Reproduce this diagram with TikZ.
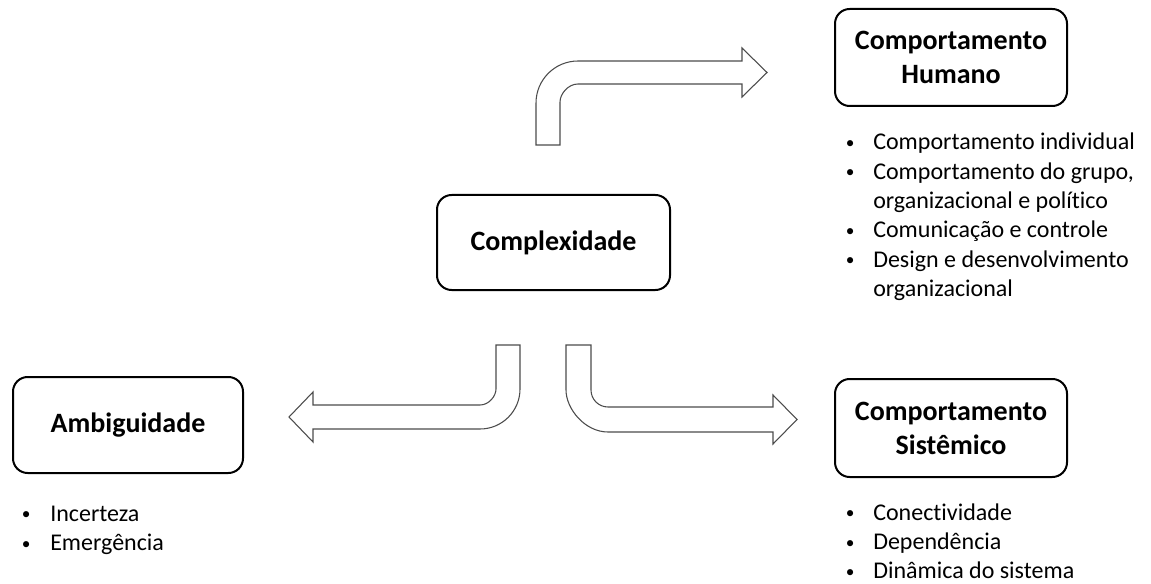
\documentclass[tikz,border=0pt]{standalone}
\usepackage{fontspec}
\setmainfont{Carlito}[Ligatures=NoCommon]
\tikzset{
  box/.style={draw=black, line width=1.5pt, rounded corners=11pt, fill=white,
    align=center, inner sep=0pt,
    font=\bfseries\fontsize{21}{25.5}\selectfont},
  blockarrow/.style={draw=black!70, line width=0.8pt, fill=white, line join=miter},
  listtext/.style={inner sep=0pt, anchor=base west, font=\fontsize{18}{22}\selectfont},
}
\newcommand{\bul}{\makebox[0pt]{\raisebox{1pt}{\fontsize{13}{13}\selectfont •}}}
\begin{document}
\begin{tikzpicture}[x=0.75pt,y=-0.75pt]
\useasboundingbox (0,0) rectangle (1151,584);

% boxes
\node[box, minimum width=233*0.75pt, minimum height=95*0.75pt] (cx) at (553.5,242.5) {Complexidade};
\node[box, minimum width=232*0.75pt, minimum height=97*0.75pt] (hu) at (951,57.5) {Comportamento\\Humano};
\node[box, minimum width=232*0.75pt, minimum height=98*0.75pt] (si) at (951,428) {Comportamento\\Sistêmico};
\node[box, minimum width=230*0.75pt, minimum height=96*0.75pt] (am) at (128,425) {Ambiguidade};

% lists
\node[listtext] (hulist) at (850,150) {\begin{tabular}[t]{@{}l@{\hspace{17.25pt}}l@{}}
\bul & Comportamento individual\\
\bul & Comportamento do grupo,\\
 & organizacional e político\\
\bul & Comunicação e controle\\
\bul & Design e desenvolvimento\\
 & organizacional
\end{tabular}};
\node[listtext] (silist) at (850,520) {\begin{tabular}[t]{@{}l@{\hspace{17.25pt}}l@{}}
\bul & Conectividade\\
\bul & Dependência\\
\bul & Dinâmica do sistema
\end{tabular}};
\node[listtext] (amlist) at (26,521) {\begin{tabular}[t]{@{}l@{\hspace{18pt}}l@{}}
\bul & Incerteza\\
\bul & Emergência
\end{tabular}};

% block arrows
% up-right arrow to Comportamento Humano
\draw[blockarrow] (536,145) -- (536,103)
  .. controls (536,79.8) and (554.8,61) .. (578,61)
  -- (742,61) -- (742,48) -- (767,72.5) -- (742,97) -- (742,84) -- (578,84)
  .. controls (568.1,84) and (560,93.9) .. (560,102)
  -- (560,145) -- cycle;
% down-left arrow to Ambiguidade
\draw[blockarrow] (496,345) -- (520,345) -- (520,389)
  .. controls (520,411.1) and (502.1,429) .. (480,429)
  -- (313,429) -- (313,442) -- (289,417) -- (313,392) -- (313,405) -- (480,405)
  .. controls (488.8,405) and (496,396.2) .. (496,389) -- cycle;
% down-right arrow to Comportamento Sistemico
\draw[blockarrow] (566,345) -- (591,345) -- (591,390)
  .. controls (591,399.4) and (598.6,407) .. (608,407)
  -- (773,407) -- (773,395) -- (797,419.5) -- (773,444) -- (773,432) -- (608,432)
  .. controls (584.8,432) and (566,408.8) .. (566,390) -- cycle;
\end{tikzpicture}
\end{document}
